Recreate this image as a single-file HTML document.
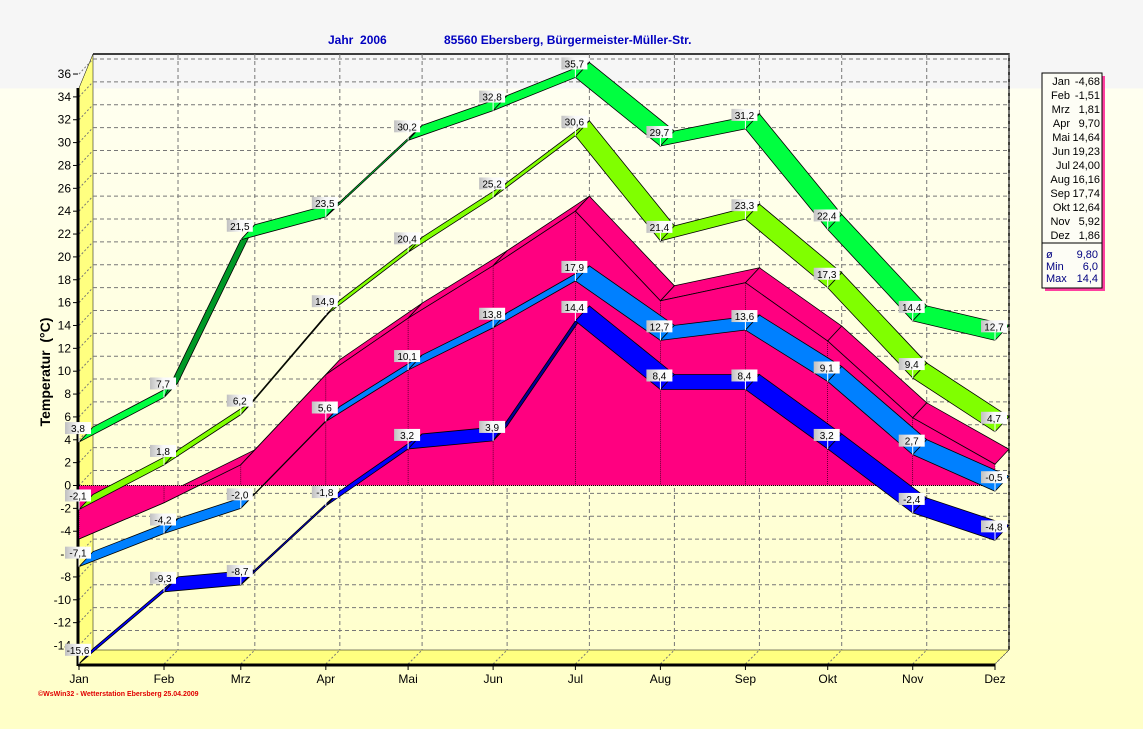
<!DOCTYPE html>
<html><head><meta charset="utf-8"><style>
html,body{margin:0;padding:0;}
body{width:1143px;height:729px;overflow:hidden;background:linear-gradient(#f6f6f6 0,#f6f6f6 88px,#fffff0 89px,#ffffc8 729px);font-family:"Liberation Sans",sans-serif;}
svg{position:absolute;left:0;top:0;}
</style></head><body>
<svg id="s" width="1143" height="729" xmlns="http://www.w3.org/2000/svg" font-family="Liberation Sans, sans-serif"></svg>
<script>
const S=document.getElementById('s');
let h='';
const DX=14,DY=-15;
const Y=v=>485.5-v*11.43;
const days=[0,31,59,90,120,151,181,212,243,273,304,334];
const X=days.map(d=>79+d*2.7425);
const mon=['Jan','Feb','Mrz','Apr','Mai','Jun','Jul','Aug','Sep','Okt','Nov','Dez'];
h+=`<polygon points="79,88 93,54 93,650 79,664" fill="#ffff80" stroke="#000" stroke-width="0.5"/>`;
h+=`<polygon points="79,664 93,650 1009,650 995,664" fill="#ffff80" stroke="#000" stroke-width="0.5"/>`;
h+=`<polyline points="93,54 1009,54 1009,650" fill="none" stroke="#000" stroke-width="1.5"/>`;
for(let v=-14;v<=36;v+=2){const y=Y(v);
 h+=`<line x1="93" y1="${y+DY}" x2="1009" y2="${y+DY}" stroke="#777" stroke-dasharray="4,3"/>`;
 h+=`<line x1="79" y1="${y}" x2="93" y2="${y+DY}" stroke="#777" stroke-dasharray="2,2"/>`;
 h+=`<line x1="73" y1="${y}" x2="78" y2="${y}" stroke="#000"/>`;
 h+=`<text x="71" y="${y+4}" font-size="12" text-anchor="end">${v}</text>`;}
X.forEach((x,i)=>{
 if(i>0) h+=`<line x1="${x+DX}" y1="54" x2="${x+DX}" y2="650" stroke="#777" stroke-dasharray="4,3"/>`;
 h+=`<line x1="${x}" y1="664" x2="${x+DX}" y2="650" stroke="#777" stroke-dasharray="2,2"/>`;
 h+=`<line x1="${x}" y1="664" x2="${x}" y2="670" stroke="#000"/>`;
 h+=`<text x="${x}" y="683" font-size="12" text-anchor="middle">${mon[i]}</text>`;});
h+=`<line x1="78" y1="88" x2="78" y2="666" stroke="#000" stroke-width="3"/>`;
h+=`<line x1="78" y1="665" x2="995" y2="665" stroke="#000" stroke-width="3"/>`;
const avg=[-4.68,-1.51,1.81,9.70,14.64,19.23,24.00,16.16,17.74,12.64,5.92,1.86];
let front='';
avg.forEach((v,i)=>{front+=`${X[i]},${Y(v)} `;});
for(let i=0;i<11;i++){h+=`<polygon points="${X[i]},${Y(avg[i])} ${X[i+1]},${Y(avg[i+1])} ${X[i+1]+DX},${Y(avg[i+1])+DY} ${X[i]+DX},${Y(avg[i])+DY}" fill="#ff0080" stroke="#000" stroke-width="0.8"/>`;}
h+=`<polygon points="${X[0]},${Y(0)} ${front}${X[11]},${Y(0)}" fill="#ff0080"/>`;
h+=`<polyline points="${front}" fill="none" stroke="#000" stroke-width="0.8"/>`;
avg.forEach((v,i)=>{h+=`<line x1="${X[i]}" y1="${Y(v)}" x2="${X[i]}" y2="${Y(0)}" stroke="#000" stroke-width="0.6" stroke-dasharray="1,1"/>`;});
h+=`<line x1="79" y1="${Y(0)}" x2="995" y2="${Y(0)}" stroke="#000" stroke-dasharray="1,1"/>`;
function shade(c,f){const n=parseInt(c.slice(1),16);let r=(n>>16)&255,g=(n>>8)&255,b=n&255;return `rgb(${r*f|0},${g*f|0},${b*f|0})`;}
const series=[
 ['#0000ff',[-15.6,-9.3,-8.7,-1.8,3.2,3.9,14.4,8.4,8.4,3.2,-2.4,-4.8]],
 ['#0080ff',[-7.1,-4.2,-2.0,5.6,10.1,13.8,17.9,12.7,13.6,9.1,2.7,-0.5]],
 ['#80ff00',[-2.1,1.8,6.2,14.9,20.4,25.2,30.6,21.4,23.3,17.3,9.4,4.7]],
 ['#00ff40',[3.8,7.7,21.5,23.5,30.2,32.8,35.7,29.7,31.2,22.4,14.4,12.7]]];
let labels='';
series.forEach(([c,d])=>{
 for(let i=0;i<11;i++){const x1=X[i],y1=Y(d[i]),x2=X[i+1],y2=Y(d[i+1]);
  const steep=(y1-y2)>(x2-x1);
  h+=`<polygon points="${x1},${y1} ${x2},${y2} ${x2+DX},${y2+DY} ${x1+DX},${y1+DY}" fill="${steep?shade(c,0.6):c}" stroke="#000" stroke-width="0.8"/>`;}
 d.forEach((v,i)=>{const t=v.toFixed(1).replace('.',',');const bx=X[i]-14,by=Y(v)+DY-5;
  labels+=`<rect x="${bx}" y="${by}" width="26" height="12" fill="url(#lg)" /><line x1="${X[i]}" y1="${by+12}" x2="${X[i]}" y2="${Y(v)}" stroke="#fff"/><text x="${bx+13}" y="${by+10}" font-size="10" text-anchor="middle">${t}</text>`;});
});
h+=`<defs><linearGradient id="lg"><stop offset="0" stop-color="#c0c0c0"/><stop offset="0.5" stop-color="#f8f8f8"/><stop offset="1" stop-color="#ffffff"/></linearGradient></defs>`;
h+=labels;
h+=`<text x="328" y="44" font-size="12" font-weight="bold" fill="#0000c0" xml:space="preserve">Jahr  2006</text>`;
h+=`<text x="444" y="44" font-size="12" font-weight="bold" fill="#0000c0">85560 Ebersberg, Bürgermeister-Müller-Str.</text>`;
h+=`<text transform="translate(50,372) rotate(-90)" font-size="14" font-weight="bold" text-anchor="middle" xml:space="preserve">Temperatur  (°C)</text>`;
h+=`<text x="38" y="696" font-size="7" font-weight="bold" fill="#e00000">©WsWin32 - Wetterstation Ebersberg 25.04.2009</text>`;
h+=`<rect x="1045" y="76" width="60" height="215" fill="#ff40a0"/>`;
h+=`<rect x="1042" y="73" width="60" height="215" fill="#fdfdf5" stroke="#000"/>`;
const lv=['-4,68','-1,51','1,81','9,70','14,64','19,23','24,00','16,16','17,74','12,64','5,92','1,86'];
mon.forEach((m,i)=>{const y=85+i*14;h+=`<text x="1070" y="${y}" font-size="11" text-anchor="end">${m}</text><text x="1100" y="${y}" font-size="11" text-anchor="end">${lv[i]}</text>`;});
h+=`<line x1="1042" y1="243" x2="1102" y2="243" stroke="#000"/>`;
[['ø','9,80'],['Min','6,0'],['Max','14,4']].forEach(([a,b],i)=>{const y=258+i*12;h+=`<text x="1046" y="${y}" font-size="11" fill="#000080">${a}</text><text x="1098" y="${y}" font-size="11" fill="#000080" text-anchor="end">${b}</text>`;});
S.innerHTML=h;
</script>
</body></html>
